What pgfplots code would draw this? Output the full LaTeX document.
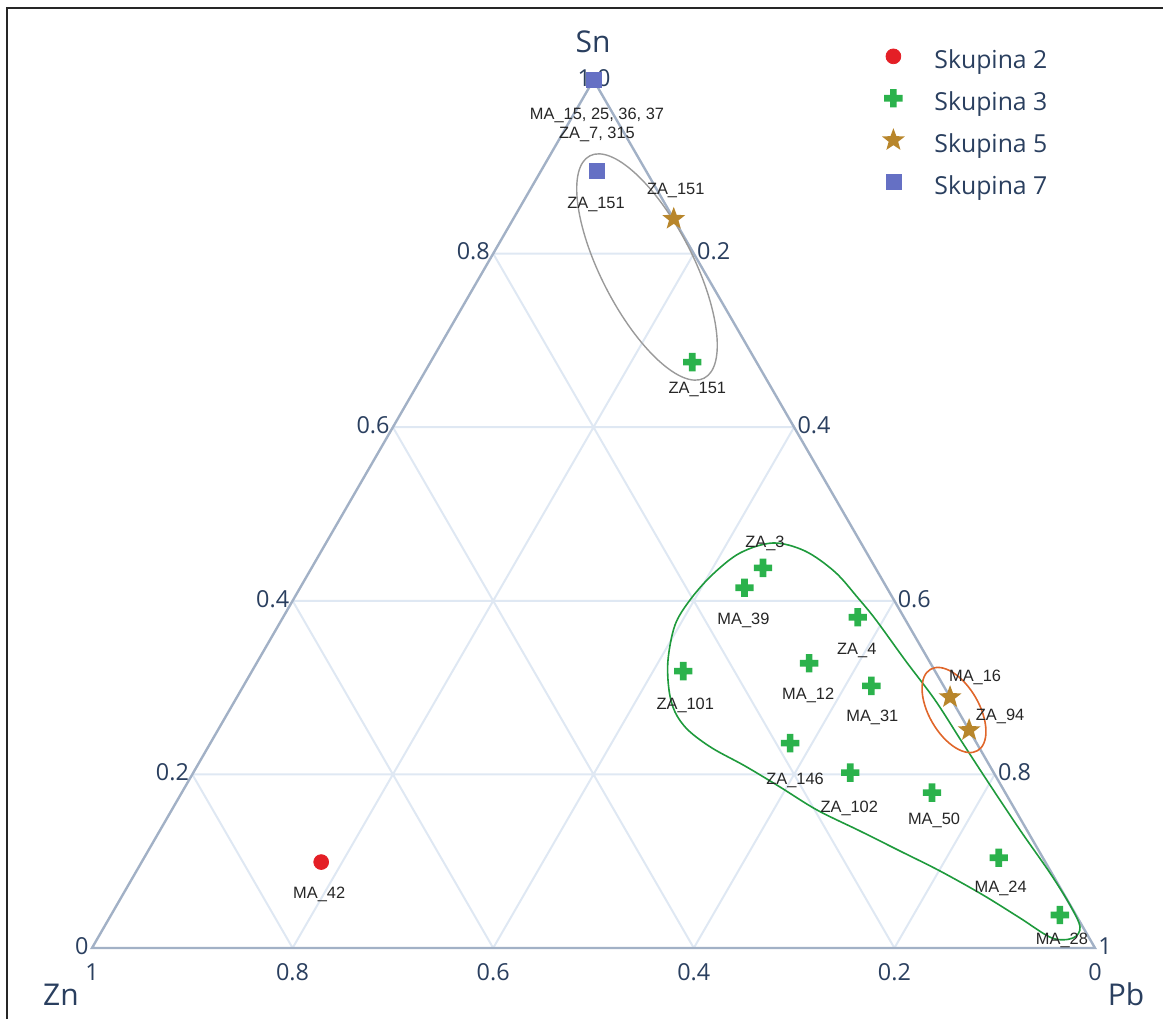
\documentclass[border=0pt]{standalone}
\usepackage{pgfplots}
\pgfplotsset{compat=1.18}
\usepackage{pgfplotstable}
\usepackage{fontspec}
\setmainfont{Open Sans}
\newfontfamily\labfont{Liberation Sans}
\definecolor{tickc}{HTML}{2A3F5F}
\definecolor{gridc}{HTML}{DFE8F3}
\definecolor{linec}{HTML}{A2B1C6}
\definecolor{cRed}{HTML}{E41F26}
\definecolor{cGreen}{HTML}{2BB24C}
\definecolor{cGold}{HTML}{B8862B}
\definecolor{cBlue}{HTML}{6570C4}
\definecolor{cOrange}{HTML}{E0662A}
\definecolor{cGray}{HTML}{9A9A9A}
\definecolor{cGreenLine}{HTML}{1E9A3C}
\definecolor{labc}{HTML}{262626}

\pgfdeclareplotmark{thickplus}{%
  \pgfpathmoveto{\pgfqpoint{-1.65pt}{4.6pt}}%
  \pgfpathlineto{\pgfqpoint{1.65pt}{4.6pt}}%
  \pgfpathlineto{\pgfqpoint{1.65pt}{1.65pt}}%
  \pgfpathlineto{\pgfqpoint{4.6pt}{1.65pt}}%
  \pgfpathlineto{\pgfqpoint{4.6pt}{-1.65pt}}%
  \pgfpathlineto{\pgfqpoint{1.65pt}{-1.65pt}}%
  \pgfpathlineto{\pgfqpoint{1.65pt}{-4.6pt}}%
  \pgfpathlineto{\pgfqpoint{-1.65pt}{-4.6pt}}%
  \pgfpathlineto{\pgfqpoint{-1.65pt}{-1.65pt}}%
  \pgfpathlineto{\pgfqpoint{-4.6pt}{-1.65pt}}%
  \pgfpathlineto{\pgfqpoint{-4.6pt}{1.65pt}}%
  \pgfpathlineto{\pgfqpoint{-1.65pt}{1.65pt}}%
  \pgfpathclose\pgfusepathqfill}
\pgfdeclareplotmark{fstar}{%
  \pgfpathmoveto{\pgfqpoint{0pt}{6pt}}%
  \pgfpathlineto{\pgfqpoint{-1.469pt}{2.023pt}}%
  \pgfpathlineto{\pgfqpoint{-5.706pt}{1.854pt}}%
  \pgfpathlineto{\pgfqpoint{-2.378pt}{-0.773pt}}%
  \pgfpathlineto{\pgfqpoint{-3.527pt}{-4.854pt}}%
  \pgfpathlineto{\pgfqpoint{0pt}{-2.5pt}}%
  \pgfpathlineto{\pgfqpoint{3.527pt}{-4.854pt}}%
  \pgfpathlineto{\pgfqpoint{2.378pt}{-0.773pt}}%
  \pgfpathlineto{\pgfqpoint{5.706pt}{1.854pt}}%
  \pgfpathlineto{\pgfqpoint{1.469pt}{2.023pt}}%
  \pgfpathclose\pgfusepathqfill}

% ternary data: Sn, Pb, Zn fractions; dx, dy = label offset (pt)
\pgfplotstableread{
Sn    Pb    Zn    dx   dy    label
0.099 0.179 0.722 -1   -18   MA\_42
}\grpTwo
\pgfplotstableread{
Sn    Pb    Zn    dx   dy    label
0.675 0.261 0.064 2.5  -15.5 ZA\_151
0.438 0.450 0.112 1    10    ZA\_3
0.415 0.443 0.142 -0.5 -18.5 MA\_39
0.381 0.573 0.046 -0.5 -18.5 ZA\_4
0.319 0.430 0.251 1    -19   ZA\_101
0.328 0.551 0.121 -0.5 -18   MA\_12
0.302 0.626 0.072 0.5  -18   MA\_31
0.236 0.578 0.186 2.5  -20.5 ZA\_146
0.202 0.655 0.143 -0.5 -20   ZA\_102
0.179 0.748 0.073 1    -16   MA\_50
0.104 0.852 0.044 1    -17.5 MA\_24
0.038 0.946 0.016 1    -14.5 MA\_28
}\grpThree
\pgfplotstableread{
Sn    Pb    Zn    dx   dy    label
0.840 0.160 0.000 1    12    ZA\_151
0.289 0.711 0.000 12.5 8     MA\_16
0.251 0.749 0.000 15.5 5     ZA\_94
}\grpFive
\pgfplotstableread{
Sn    Pb    Zn    dx   dy    label
1.000 0.000 0.000 0    0     {}
0.895 0.056 0.049 -0.5 -18.5 ZA\_151
}\grpSeven

\pgfplotsset{
  tern/.style={only marks,
    legend image code/.code={\path[draw=none,fill=none] (0pt,-9pt) rectangle (31.5pt,3pt);
      \draw[mark repeat=2,mark phase=2,##1] plot coordinates {(0pt,2pt)(14pt,2pt)(28pt,2pt)};},
    table/x expr=\thisrow{Pb}+0.5*\thisrow{Sn},
    table/y=Sn, table/meta=label,
    point meta=explicit symbolic,
    nodes near coords,
    visualization depends on={\thisrow{dx}\as\ldx},
    visualization depends on={\thisrow{dy}\as\ldy},
    every node near coord/.style={anchor=base, xshift=\ldx pt, yshift=\ldy pt,
      font=\labfont\fontsize{8.2}{9.5}\selectfont, text=labc, inner sep=0pt}},
}

\begin{document}
\begin{tikzpicture}
\begin{axis}[
  scale only axis, width=581.5pt, height=509.5pt,
  xmin=-0.091725, xmax=1.067797, ymin=-0.081797, ymax=1.092166,
  hide axis, clip=false,
  legend style={at={(axis cs:0.7707,1.0426)}, anchor=north west, draw=none, fill=none,
    font=\fontsize{12.4}{15}\selectfont, text=tickc, row sep=3.5pt, inner sep=0pt,
    nodes={inner sep=3pt}},
  legend cell align=left,
]
% grid
\draw[gridc, line width=1pt]
  (axis cs:0.1,0.2) -- (axis cs:0.9,0.2)
  (axis cs:0.2,0.4) -- (axis cs:0.8,0.4)
  (axis cs:0.3,0.6) -- (axis cs:0.7,0.6)
  (axis cs:0.4,0.8) -- (axis cs:0.6,0.8)
  (axis cs:0.2,0) -- (axis cs:0.6,0.8)
  (axis cs:0.4,0) -- (axis cs:0.7,0.6)
  (axis cs:0.6,0) -- (axis cs:0.8,0.4)
  (axis cs:0.8,0) -- (axis cs:0.9,0.2)
  (axis cs:0.8,0) -- (axis cs:0.4,0.8)
  (axis cs:0.6,0) -- (axis cs:0.3,0.6)
  (axis cs:0.4,0) -- (axis cs:0.2,0.4)
  (axis cs:0.2,0) -- (axis cs:0.1,0.2);
\draw[linec, line width=1.2pt, line join=miter] (axis cs:0,0) -- (axis cs:1,0) -- (axis cs:0.5,1) -- cycle;
\coordinate (TL) at (axis cs:-0.091725,1.092166);
\coordinate (BR) at (axis cs:1.067797,-0.081797);
\begin{scope}[shift={(axis cs:-0.091725,1.092166)}, x=0.5pt, y=-0.5pt]
  \draw[black!85, line width=1pt] (7,1019) -- (7,8) -- (1163,8);
  \begin{scope}[every node/.style={inner sep=0pt, text=tickc, font=\fontsize{11.7}{14}\selectfont}]
    \node[anchor=east] at (490.2,251.6) {0.8};
    \node[anchor=east] at (389.9,425.2) {0.6};
    \node[anchor=east] at (289.6,598.8) {0.4};
    \node[anchor=east] at (189.3,772.4) {0.2};
    \node[anchor=east] at (89,946) {0};
    \node[anchor=west] at (696.8,251.6) {0.2};
    \node[anchor=west] at (797.1,425.2) {0.4};
    \node[anchor=west] at (897.4,598.8) {0.6};
    \node[anchor=west] at (997.7,772.4) {0.8};
    \node[anchor=west] at (1098,946) {1};
    \node at (92,972) {1};
    \node at (292.6,972) {0.8};
    \node at (493.2,972) {0.6};
    \node at (693.8,972) {0.4};
    \node at (894.4,972) {0.2};
    \node at (1095,972) {0};
    \node at (594,78) {1.0};
  \end{scope}
  \begin{scope}[every node/.style={inner sep=0pt, text=tickc, font=\fontsize{15}{18}\selectfont}]
    \node at (593,42) {Sn};
    \node at (61,995) {Zn};
    \node at (1126,994) {Pb};
  \end{scope}
  \draw[cGreenLine, line width=0.8pt] plot[smooth cycle, tension=0.55] coordinates {
    (773,543) (805,551) (835,572) (858,598) (876,620) (905,660) (935,700) (962,742)
    (990,785) (1020,830) (1050,873) (1070,905) (1080,927) (1073,938) (1052,938)
    (1020,918) (983,895) (940,871) (900,851) (860,831) (817,810) (780,787) (745,766)
    (712,748) (688,730) (675,712) (669,690) (668,660) (675,625) (690,600) (712,575) (740,553)};
  \draw[cGray, line width=0.7pt, rotate around={-62.8:(647,267)}] (647,267) ellipse [x radius=62.5pt, y radius=23pt];
  \draw[cOrange, line width=0.8pt, rotate around={-60:(954,710)}] (954,710) ellipse [x radius=23.5pt, y radius=12.5pt];
\end{scope}
\node[anchor=base, inner sep=0pt, text=labc, font=\labfont\fontsize{8.2}{9.5}\selectfont, xshift=1.75pt, yshift=-20pt] at (axis cs:0.5,1) {MA\_15, 25, 36, 37};
\node[anchor=base, inner sep=0pt, text=labc, font=\labfont\fontsize{8.2}{9.5}\selectfont, xshift=1.75pt, yshift=-29.5pt] at (axis cs:0.5,1) {ZA\_7, 315};

\addplot[tern, mark=*, mark size=3.7pt, draw=cRed, fill=cRed] table {\grpTwo};
\addlegendentry{Skupina 2}
\addplot[tern, mark=thickplus, draw=cGreen, fill=cGreen] table {\grpThree};
\addlegendentry{Skupina 3}
\addplot[tern, mark=fstar, draw=cGold, fill=cGold] table {\grpFive};
\addlegendentry{Skupina 5}
\addplot[tern, mark=square*, mark size=3.75pt, draw=cBlue, fill=cBlue] table {\grpSeven};
\addlegendentry{Skupina 7}
\end{axis}
\pgfresetboundingbox
\path (TL) rectangle (BR);
\end{tikzpicture}
\end{document}
